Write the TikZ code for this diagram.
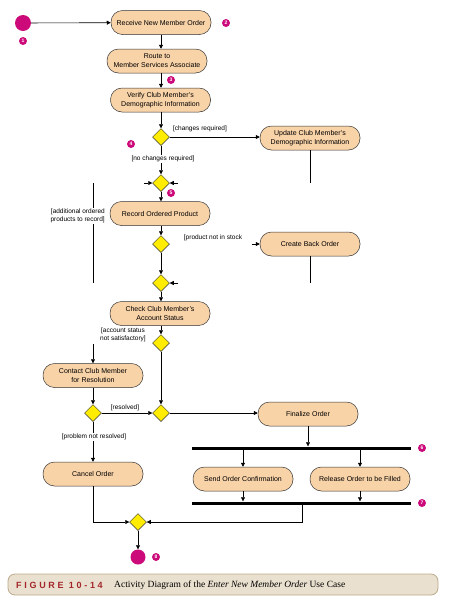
\documentclass[tikz,border=0pt]{standalone}
\usepackage{fontspec}
\setmainfont{Liberation Serif}
\setsansfont{Liberation Sans}
\newfontfamily\figfont[LetterSpace=30]{Liberation Sans}
\usetikzlibrary{arrows.meta,shapes.geometric}
\definecolor{peach}{HTML}{F9D3A8}
\definecolor{dyel}{HTML}{FFEC00}
\definecolor{mag}{HTML}{CC0A7A}
\definecolor{capbg}{HTML}{EAE0CF}
\definecolor{capbd}{HTML}{BBAA8C}
\definecolor{capred}{HTML}{A3272A}
\begin{document}
\begin{tikzpicture}[x=1pt,y=-1pt,
  act/.style={draw=black!80, line width=0.5pt, fill=peach, rounded corners=11.5pt, minimum width=100pt, minimum height=24pt, inner sep=1pt, align=center, font=\sffamily\fontsize{7}{9}\selectfont},
  dec/.style={diamond, draw=black!80, line width=0.5pt, fill=dyel, minimum width=17pt, minimum height=17pt, inner sep=0pt},
  num/.style={circle, fill=mag, text=white, inner sep=0pt, minimum size=8pt, font=\sffamily\bfseries\fontsize{5}{5}\selectfont},
  startc/.style={circle, fill=mag, inner sep=0pt, minimum size=16pt},
  endc/.style={circle, fill=mag, inner sep=0pt, minimum size=15pt},
  lab/.style={font=\sffamily\fontsize{6.5}{8}\selectfont, inner sep=1pt, align=center},
  arr/.style={-{Triangle[length=4pt,width=4pt]}, line width=0.6pt},
  plain/.style={line width=0.6pt},
  barn/.style={fill=black, minimum width=219pt, minimum height=3pt, inner sep=0pt},
  capbox/.style={draw=capbd, line width=0.8pt, fill=capbg, rounded corners=7pt, minimum width=430pt, minimum height=21pt}
]
\useasboundingbox (0,0) rectangle (449,603);
\fill[white] (0,0) rectangle (449,603);

% nodes
\node[startc] (start) at (23,23) {};
\node[num] (m1) at (23,41) {1};
\node[act] (receive) at (161,22.5) {Receive New Member Order};
\node[num] (m2) at (226,23) {2};
\node[act] (route) at (157,61) {Route to\\Member Services Associate};
\node[num] (m3) at (171,80) {3};
\node[act] (verify) at (160.5,100) {Verify Club Member's\\Demographic Information};
\node[dec] (d1) at (161,137) {};
\node[num] (m4) at (131,144) {4};
\node[act] (update) at (310,138) {Update Club Member's\\Demographic Information};
\node[dec] (d2) at (161,183) {};
\node[num] (m5) at (171,193) {5};
\node[act] (record) at (160,213.5) {Record Ordered Product};
\node[dec] (d3) at (161,244) {};
\node[act] (back) at (310,244) {Create Back Order};
\node[dec] (d4) at (161,283) {};
\node[act] (check) at (160,313.5) {Check Club Member's\\Account Status};
\node[dec] (d5) at (161,343) {};
\node[act] (contact) at (93,375.5) {Contact Club Member\\for Resolution};
\node[dec] (d6) at (93,413) {};
\node[dec] (d7) at (161,413) {};
\node[act] (final) at (308,414) {Finalize Order};
\node[act] (cancel) at (93,474) {Cancel Order};
\node[barn] (fork) at (301.5,448) {};
\node[num] (m6) at (422,448) {6};
\node[act] (send) at (243,479) {Send Order Confirmation};
\node[act] (release) at (360,479) {Release Order to be Filled};
\node[barn] (join) at (301.5,503) {};
\node[num] (m7) at (422,503) {7};
\node[dec] (d8) at (138,522) {};
\node[endc] (end) at (138,557) {};
\node[num] (m8) at (156,557) {8};

% free ends
\coordinate (uend) at (310,183);
\coordinate (loopTop) at (93,183);
\coordinate (loopBot) at (93,283);
\coordinate (d2l) at (144,183);
\coordinate (d2r) at (178,183);
\coordinate (backin) at (252,244);
\coordinate (backend) at (310,283);
\coordinate (d4r) at (178,283);
\coordinate (nsTop) at (93,344);
\coordinate (joinout) at (302,522);

% connectors
\draw[arr] (start) -- (receive);
\draw[arr] (receive.south) -- (receive.south |- route.north);
\draw[arr] (d1 |- route.south) -- (d1 |- verify.north);
\draw[arr] (verify.south -| d1) -- (d1);
\draw[arr] (d1.east) -- (d1.east -| update.west);
\draw[arr] (d1) -- (d2);
\draw[plain] (update.south) -- (uend);
\draw[arr] (d2l) -- (d2);
\draw[arr] (d2r) -- (d2);
\draw[plain] (loopTop) -- (loopBot);
\draw[arr] (d2) -- (d2 |- record.north);
\draw[arr] (record.south -| d3) -- (d3);
\draw[arr] (backin) -- (back.west);
\draw[plain] (back.south) -- (backend);
\draw[arr] (d3) -- (d4);
\draw[arr] (d4r) -- (d4);
\draw[arr] (d4) -- (d4 |- check.north);
\draw[arr] (check.south -| d5) -- (d5);
\draw[arr] (nsTop) -- (contact.north);
\draw[arr] (d5) -- (d7);
\draw[arr] (contact) -- (d6);
\draw[arr] (d6) -- (d7);
\draw[arr] (d7) -- (d7 -| final.west);
\draw[arr] (d6) -- (cancel);
\draw[arr] (final.south) -- (final.south |- fork.north);
\draw[arr] (fork.south -| send) -- (send.north);
\draw[arr] (fork.south -| release) -- (release.north);
\draw[arr] (send.south) -- (send.south |- join.north);
\draw[arr] (release.south) -- (release.south |- join.north);
\draw[arr] (join.south -| joinout) -- (joinout) -- (d8);
\draw[arr] (cancel.south) |- (d8);
\draw[arr] (d8) -- (end);

% guard labels
\node[lab] (l1) at (200,129) {[changes required]};
\node[lab, fill=white] (l2) at (163,159) {[no changes required]};
\node[lab, fill=white, align=right, anchor=east] (l3) at (106,216) {[additional ordered\\products to record]};
\node[lab] (l4) at (213,238) {[product not in stock};
\node[lab] (l5) at (123,334.5) {[account status\\not satisfactory]};
\node[lab] (l6) at (125,408) {[resolved]};
\node[lab, fill=white] (l7) at (94,437) {[problem not resolved]};

% caption
\node[capbox] (cap) at (223,584.5) {};
\node[anchor=west, text=capred, font=\figfont\bfseries\fontsize{9}{10}\selectfont, inner sep=0pt] (figlab) at (16,585) {FIGURE 10-14};
\node[anchor=west, font=\fontsize{9.5}{11}\selectfont, inner sep=0pt] (captext) at (114,585) {Activity Diagram of the \emph{Enter New Member Order} Use Case};
\end{tikzpicture}
\end{document}
